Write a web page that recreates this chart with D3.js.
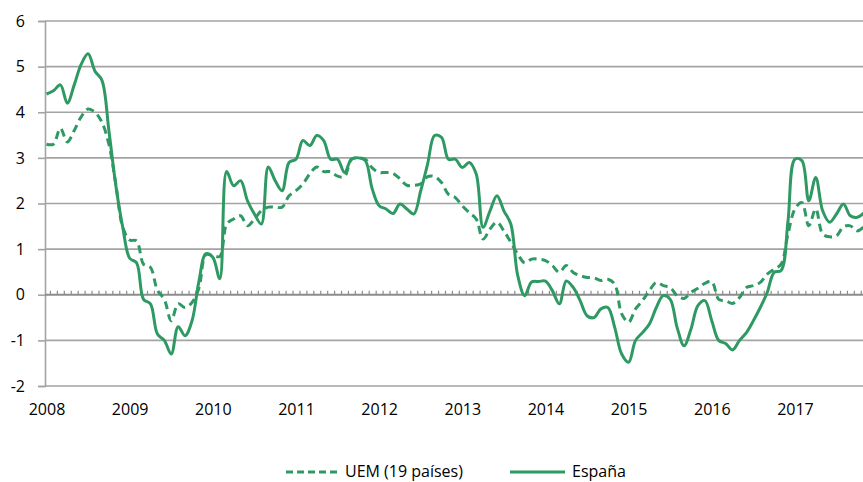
<!DOCTYPE html>
<html lang="es">
<head>
<meta charset="utf-8">
<title>UEM vs España</title>
<script src="https://d3js.org/d3.v7.min.js"></script>
<style>
  body { margin: 0; background: #fff; }
  .axis text { font-family: "Open Sans", sans-serif; font-size: 16px; fill: #000; }
  .legend text { font-family: "Open Sans", sans-serif; font-size: 16px; fill: #000; }
</style>
</head>
<body>
<script>
// años del eje horizontal (una etiqueta cada 12 meses, desde ene-2008)
var years = ["2008", "2009", "2010", "2011", "2012", "2013", "2014", "2015", "2016", "2017"];
var yTicks = [-2, -1, 0, 1, 2, 3, 4, 5, 6];

// tasa de variación anual, mensual desde ene-2008
var uem = [3.3, 3.3, 3.65, 3.35, 3.6, 3.9, 4.07, 4.0, 3.78, 3.3, 2.43, 1.48,
  1.2, 1.18, 0.67, 0.6, 0.1, -0.1, -0.57, -0.2, -0.28, -0.17, 0.15, 0.88,
  0.86, 0.84, 1.55, 1.66, 1.73, 1.51, 1.66, 1.84, 1.92, 1.92, 1.92, 2.17,
  2.28, 2.43, 2.65, 2.8, 2.7, 2.7, 2.6, 2.59, 2.97, 3.0, 2.97, 2.78,
  2.68, 2.68, 2.66, 2.54, 2.4, 2.4, 2.43, 2.59, 2.59, 2.46, 2.2, 2.13,
  1.95, 1.8, 1.66, 1.22, 1.44, 1.59, 1.4, 1.15, 0.89, 0.7, 0.78, 0.78,
  0.75, 0.64, 0.49, 0.64, 0.49, 0.42, 0.38, 0.37, 0.31, 0.34, 0.23, -0.42,
  -0.6, -0.31, -0.13, 0.09, 0.27, 0.2, 0.16, -0.02, -0.08, 0.05, 0.14, 0.25,
  0.29, -0.1, -0.13, -0.19, -0.06, 0.16, 0.2, 0.27, 0.45, 0.56, 0.67, 1.33,
  1.88, 2.02, 1.51, 1.88, 1.33, 1.27, 1.29, 1.49, 1.51, 1.4, 1.5];

var espana = [4.4, 4.47, 4.6, 4.2, 4.6, 5.05, 5.28, 4.9, 4.7, 3.6, 2.4, 1.48,
  0.8, 0.7, -0.1, -0.2, -0.86, -1.0, -1.3, -0.7, -0.9, -0.57, 0.3, 0.9,
  0.82, 0.35, 2.7, 2.39, 2.5, 2.06, 1.77, 1.55, 2.8, 2.5, 2.28, 2.9,
  2.97, 3.38, 3.27, 3.49, 3.38, 2.97, 2.97, 2.68, 2.97, 3.0, 2.94, 2.32,
  1.95, 1.88, 1.78, 1.99, 1.88, 1.77, 2.28, 2.87, 3.49, 3.45, 2.97, 2.97,
  2.79, 2.9, 2.65, 1.48, 1.84, 2.17, 1.84, 1.55, 0.42, -0.02, 0.28, 0.29,
  0.3, 0.09, -0.2, 0.3, 0.16, -0.13, -0.46, -0.5, -0.31, -0.28, -0.72, -1.3,
  -1.48, -1.0, -0.83, -0.64, -0.28, -0.02, -0.1, -0.72, -1.12, -0.75, -0.24, -0.13,
  -0.57, -1.0, -1.07, -1.21, -1.0, -0.83, -0.57, -0.28, 0.05, 0.49, 0.53, 1.62,
  2.97, 2.94, 2.06, 2.57, 1.84, 1.59, 1.77, 1.99, 1.73, 1.7, 1.8];

var w = 863, h = 482;
var green = "#2f9963";
var grid = "#a3a3a3";

var svg = d3.select("body").append("svg")
  .attr("width", w)
  .attr("height", h);

var xScale = d3.scaleLinear()
  .domain([0, 118])
  .range([46.5, 46.5 + 6.93 * 118]);

var yScale = d3.scaleLinear()
  .domain([-2, 6])
  .range([386, 21]);

// líneas de cuadrícula + etiquetas del eje Y
var yAxis = d3.axisLeft(yScale)
  .tickValues(yTicks)
  .tickSize(7)
  .tickPadding(13)
  .tickFormat(function (d) { return String(d); });

var gy = svg.append("g")
  .attr("class", "axis")
  .attr("transform", "translate(45,0)")
  .call(yAxis);
gy.select(".domain").attr("stroke", grid).attr("stroke-width", 1.6);
gy.selectAll(".tick line").attr("stroke", grid).attr("stroke-width", 1.6);

svg.append("g")
  .selectAll("line")
  .data(yTicks.filter(function (d) { return d !== 0; }))
  .enter()
  .append("line")
  .attr("x1", 45)
  .attr("x2", w)
  .attr("y1", function (d) { return yScale(d); })
  .attr("y2", function (d) { return yScale(d); })
  .attr("stroke", grid)
  .attr("stroke-width", 1.6);

// eje de categorías en 0 con marcas mensuales
var months = d3.range(0, 119);
var zeroAxis = d3.axisTop(xScale)
  .tickValues(months.map(function (d) { return d + 0.5; }))
  .tickSize(4)
  .tickFormat("");
var gz = svg.append("g")
  .attr("transform", "translate(0," + yScale(0) + ")")
  .call(zeroAxis);
gz.select(".domain").remove();
gz.selectAll(".tick line").attr("stroke", "#8c8c8c").attr("stroke-width", 1.2);
svg.append("line")
  .attr("x1", 45).attr("x2", w)
  .attr("y1", yScale(0)).attr("y2", yScale(0))
  .attr("stroke", "#8c8c8c")
  .attr("stroke-width", 1.8);

// etiquetas de años abajo
var xAxis = d3.axisBottom(xScale)
  .tickValues(years.map(function (d, i) { return i * 12; }))
  .tickSize(0)
  .tickPadding(18)
  .tickFormat(function (d) { return years[d / 12]; });
var gx = svg.append("g")
  .attr("class", "axis")
  .attr("transform", "translate(0,386)")
  .call(xAxis);
gx.select(".domain").remove();

// series
var line = d3.line()
  .x(function (d, i) { return xScale(i); })
  .y(function (d) { return yScale(d); })
  .curve(d3.curveCatmullRom.alpha(0.5));

svg.append("path")
  .datum(uem)
  .attr("d", line)
  .attr("fill", "none")
  .attr("stroke", green)
  .attr("stroke-width", 3)
  .attr("stroke-dasharray", "8,5");

svg.append("path")
  .datum(espana)
  .attr("d", line)
  .attr("fill", "none")
  .attr("stroke", green)
  .attr("stroke-width", 3);

// leyenda
var legend = svg.append("g").attr("class", "legend");
legend.append("line")
  .attr("x1", 286).attr("x2", 338).attr("y1", 472).attr("y2", 472)
  .attr("stroke", green).attr("stroke-width", 3).attr("stroke-dasharray", "7,4");
legend.append("text").attr("x", 345).attr("y", 477).text("UEM (19 países)");
legend.append("line")
  .attr("x1", 510).attr("x2", 565).attr("y1", 472).attr("y2", 472)
  .attr("stroke", green).attr("stroke-width", 3);
legend.append("text").attr("x", 572).attr("y", 477).text("España");
</script>
</body>
</html>
